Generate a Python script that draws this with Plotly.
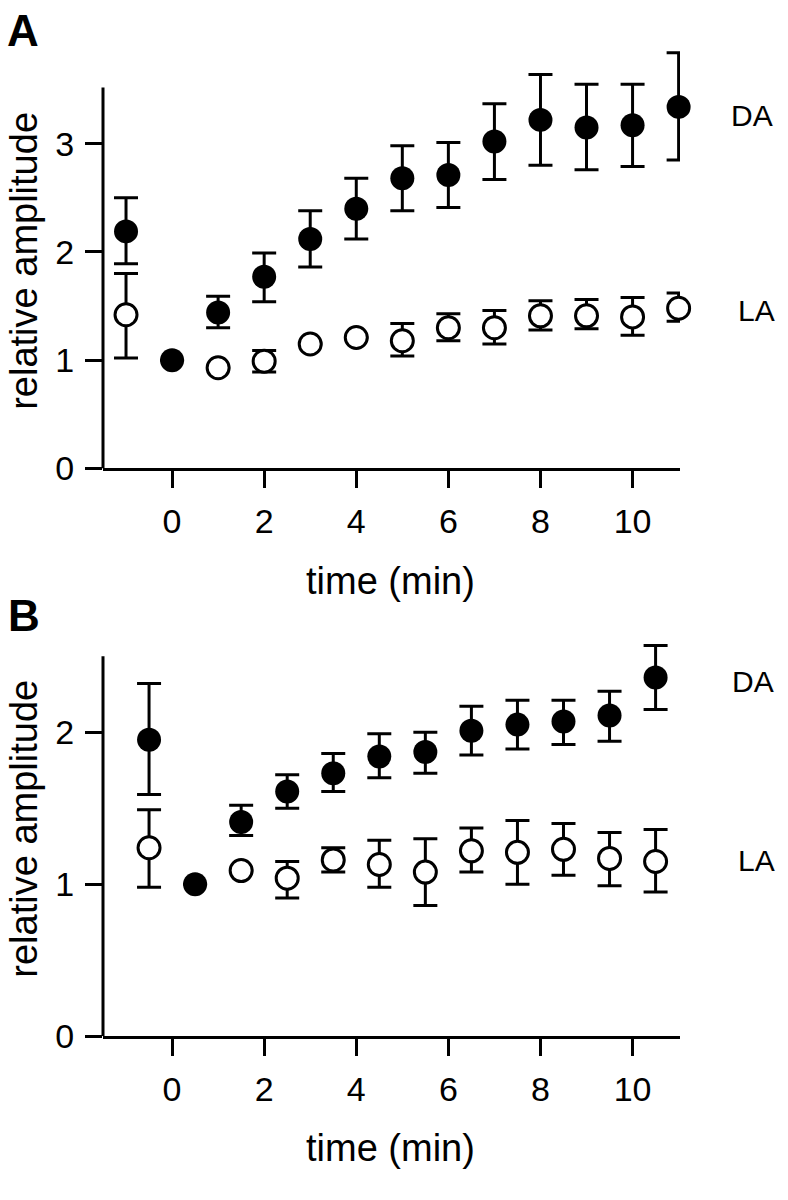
import plotly.graph_objects as go

# ---------------- data ----------------
# Panel A
time_a = [-1, 0, 1, 2, 3, 4, 5, 6, 7, 8, 9, 10, 11]
da_a = [2.19, 1.00, 1.44, 1.77, 2.12, 2.40, 2.68, 2.71, 3.02, 3.22, 3.15, 3.17, 3.34]
da_a_hi = [2.50, None, 1.59, 1.99, 2.38, 2.68, 2.98, 3.01, 3.37, 3.64, 3.55, 3.55, 3.84]
da_a_lo = [1.89, None, 1.30, 1.54, 1.86, 2.12, 2.38, 2.41, 2.67, 2.80, 2.76, 2.79, 2.85]
la_a = [1.42, None, 0.93, 0.99, 1.15, 1.21, 1.18, 1.30, 1.30, 1.41, 1.41, 1.40, 1.48]
la_a_hi = [1.80, None, None, 1.09, None, None, 1.34, 1.43, 1.46, 1.55, 1.56, 1.58, 1.62]
la_a_lo = [1.02, None, None, 0.89, None, None, 1.04, 1.18, 1.15, 1.28, 1.29, 1.23, 1.36]

# Panel B
time_b = [-0.5, 0.5, 1.5, 2.5, 3.5, 4.5, 5.5, 6.5, 7.5, 8.5, 9.5, 10.5]
da_b = [1.95, 1.00, 1.41, 1.61, 1.73, 1.84, 1.87, 2.01, 2.05, 2.07, 2.11, 2.36]
da_b_hi = [2.32, None, 1.52, 1.72, 1.86, 1.99, 2.00, 2.17, 2.21, 2.21, 2.27, 2.57]
da_b_lo = [1.59, None, 1.32, 1.50, 1.61, 1.70, 1.73, 1.85, 1.89, 1.92, 1.94, 2.15]
la_b = [1.24, None, 1.09, 1.04, 1.16, 1.13, 1.08, 1.22, 1.21, 1.23, 1.17, 1.15]
la_b_hi = [1.49, None, None, 1.15, 1.24, 1.29, 1.30, 1.37, 1.42, 1.40, 1.34, 1.36]
la_b_lo = [0.98, None, None, 0.91, 1.08, 0.98, 0.86, 1.08, 1.00, 1.06, 0.99, 0.95]

x_ticks = [0, 2, 4, 6, 8, 10]
y_ticks_a = [0, 1, 2, 3]
y_ticks_b = [0, 1, 2]


def err_plus(v, hi):
    return [None if (h is None or m is None) else h - m for m, h in zip(v, hi)]


def err_minus(v, lo):
    return [None if (l is None or m is None) else m - l for m, l in zip(v, lo)]


FONT = "Liberation Sans, Arial, Helvetica, sans-serif"
W, H = 788, 1200

fig = go.Figure()


def add_series(x, y, hi, lo, filled, xa, ya):
    eb = dict(type="data", symmetric=False,
              array=err_plus(y, hi), arrayminus=err_minus(y, lo),
              color="black", thickness=3, width=12)
    if filled:
        marker = dict(symbol="circle", size=24, color="black", line=dict(width=0))
    else:
        marker = dict(symbol="circle", size=22, color="white",
                      line=dict(width=3, color="black"))
    fig.add_trace(go.Scatter(x=x, y=y, mode="markers", marker=marker, error_y=eb,
                             xaxis=xa, yaxis=ya, cliponaxis=False, showlegend=False))


add_series(time_a, la_a, la_a_hi, la_a_lo, False, "x", "y")
add_series(time_a, da_a, da_a_hi, da_a_lo, True, "x", "y")
add_series(time_b, la_b, la_b_hi, la_b_lo, False, "x2", "y2")
add_series(time_b, da_b, da_b_hi, da_b_lo, True, "x2", "y2")

# pixel geometry
x_left, x_right = 103, 680
ya0_px, ya_unit = 476, 110.0
yb0_px, yb_unit = 1053, 154.5
ya_max, yb_max = 3.9, 2.62

dom_x = [x_left / W, x_right / W]
dom_ya = [(H - ya0_px) / H, (H - (ya0_px - ya_max * ya_unit)) / H]
dom_yb = [(H - yb0_px) / H, (H - (yb0_px - yb_max * yb_unit)) / H]

xaxis_common = dict(range=[-1.5, 11.03], tickvals=x_ticks, ticks="outside", ticklen=17,
                    tickwidth=3, tickcolor="black", showline=True, linewidth=3,
                    linecolor="black", showgrid=False, zeroline=False,
                    tickfont=dict(family=FONT, size=34, color="black"),
                    ticklabelstandoff=4, fixedrange=True)
yaxis_common = dict(ticks="outside", ticklen=17, tickwidth=3, tickcolor="black",
                    showline=False, showgrid=False, zeroline=False,
                    tickfont=dict(family=FONT, size=34, color="black"),
                    ticklabelstandoff=4, fixedrange=True)

fig.update_layout(
    width=W, height=H, autosize=False,
    margin=dict(l=0, r=0, t=0, b=0),
    paper_bgcolor="white", plot_bgcolor="white",
    xaxis=dict(domain=dom_x, anchor="y", **xaxis_common),
    yaxis=dict(domain=dom_ya, anchor="x", range=[0, ya_max], tickvals=y_ticks_a, **yaxis_common),
    xaxis2=dict(domain=dom_x, anchor="y2", **xaxis_common),
    yaxis2=dict(domain=dom_yb, anchor="x2", range=[0, yb_max], tickvals=y_ticks_b, **yaxis_common),
)

# y-axis lines (stop short of the data range top, as in the original)
fig.add_shape(type="line", xref="x domain", yref="y", x0=0, x1=0, y0=0, y1=3.52,
              line=dict(color="black", width=3))
fig.add_shape(type="line", xref="x2 domain", yref="y2", x0=0, x1=0, y0=0, y1=2.50,
              line=dict(color="black", width=3))


def ann(text, xpx, ypx, size, xanchor="left", bold=False, angle=0):
    fig.add_annotation(text=f"<b>{text}</b>" if bold else text,
                       xref="paper", yref="paper", x=xpx / W, y=1 - ypx / H,
                       xanchor=xanchor, yanchor="middle", showarrow=False,
                       textangle=angle,
                       font=dict(family=FONT, size=size, color="black"))


# panel letters
ann("A", 5, 31, 44, bold=True)
ann("B", 6, 625, 44, bold=True)
# series labels
ann("DA", 729, 117, 30)
ann("LA", 736, 315, 30)
ann("DA", 730, 692, 30)
ann("LA", 736, 874, 30)
# axis titles
ann("time (min)", 390, 590, 38, xanchor="center")
ann("time (min)", 390, 1166, 38, xanchor="center")
ann("relative amplitude", 24, 265, 38, xanchor="center", angle=-90)
ann("relative amplitude", 24, 842, 38, xanchor="center", angle=-90)

post = (
    "var de=document.documentElement, b=document.body;"
    "de.style.margin='0';de.style.padding='0';de.style.overflow='hidden';de.style.height='1200px';"
    "b.style.margin='0';b.style.padding='0';b.style.overflow='hidden';b.style.height='1200px';"
    "var gd=document.getElementById('{plot_id}');"
    "gd.style.position='absolute';gd.style.top='0px';gd.style.left='0px';"
)

fig.write_html("out.html", config={"displayModeBar": False, "responsive": False},
               post_script=post)
